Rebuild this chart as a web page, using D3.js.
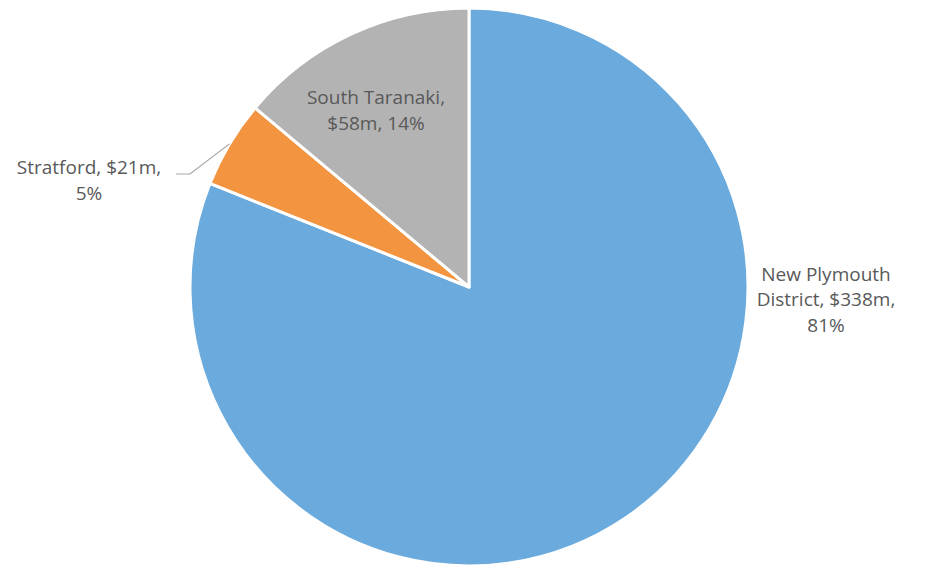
<!DOCTYPE html>
<html>
<head>
<meta charset="utf-8">
<script src="https://cdn.jsdelivr.net/npm/d3@7"></script>
<style>
  body { margin: 0; background: #fff; }
  text { font-family: "Open Sans", "Liberation Sans", sans-serif; fill: #595959; }
</style>
</head>
<body>
<svg id="chart" width="926" height="565"></svg>
<script>
const districts = ["New Plymouth District", "Stratford", "South Taranaki"];
const values = [338, 21, 58];               // $m
const labelLines = [
  ["New Plymouth", "District, $338m,", "81%"],
  ["Stratford, $21m,", "5%"],
  ["South Taranaki,", "$58m, 14%"]
];
const colors = ["#6aaadd", "#f39440", "#b3b3b3"];

const svg = d3.select("#chart");
const cx = 469, cy = 287, r = 279;

const pie = d3.pie().sort(null).value(d => d)(values);
const arc = d3.arc().innerRadius(0).outerRadius(r);

const g = svg.append("g").attr("transform", `translate(${cx},${cy})`);

g.selectAll("path")
  .data(pie)
  .enter().append("path")
  .attr("d", arc)
  .attr("fill", (d, i) => colors[i])
  .attr("stroke", "#fff")
  .attr("stroke-width", 3)
  .attr("stroke-linejoin", "round");

// label anchor positions (relative to the pie centre)
const labelPos = [
  { x: 357, y: 12 },    // New Plymouth, outside right
  { x: -380, y: -107 }, // Stratford, outside left
  { x: -93, y: -177 }   // South Taranaki, inside
];

// leader line for Stratford
const sAng = (pie[1].startAngle + pie[1].endAngle) / 2;
const edge = [Math.sin(sAng) * r, -Math.cos(sAng) * r];
g.append("polyline")
  .attr("points", [[-293, -113], [-279, -113], edge].map(p => p.join(",")).join(" "))
  .attr("fill", "none")
  .attr("stroke", "#a6a6a6")
  .attr("stroke-width", 1.2);

labelLines.forEach((lines, i) => {
  const t = g.append("text")
    .attr("text-anchor", "middle")
    .attr("font-size", 19);
  lines.forEach((ln, j) => {
    t.append("tspan")
      .attr("x", labelPos[i].x)
      .attr("y", labelPos[i].y + j * 25.5 - (lines.length - 1) * 12.75 + 7)
      .text(ln);
  });
});
</script>
</body>
</html>
